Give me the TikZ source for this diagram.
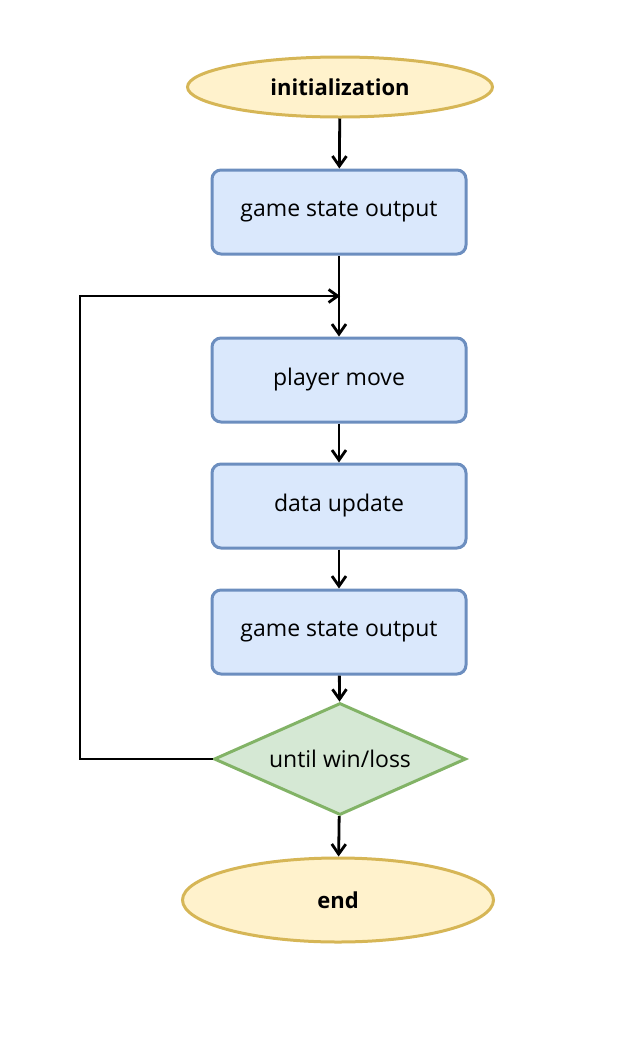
\documentclass[tikz,border=0pt]{standalone}
\usepackage{fontspec}
\setmainfont{Open Sans}
\usetikzlibrary{shapes.geometric,arrows.meta}
\definecolor{yfill}{HTML}{FFF2CC}
\definecolor{ydraw}{HTML}{D6B656}
\definecolor{bfill}{HTML}{DAE8FC}
\definecolor{bdraw}{HTML}{6C8EBF}
\definecolor{gfill}{HTML}{D5E8D4}
\definecolor{gdraw}{HTML}{82B366}
\newcommand{\lowtxt}[1]{\raisebox{-3pt}{#1}}
\tikzset{
  term/.style={ellipse, draw=ydraw, fill=yfill, line width=3pt, minimum width=305pt, minimum height=60pt, inner sep=0pt, font=\fontsize{22}{26}\selectfont\bfseries},
  proc/.style={rectangle, rounded corners=9pt, draw=bdraw, fill=bfill, line width=3pt, minimum width=254pt, minimum height=84pt, inner sep=0pt, font=\fontsize{23}{27}\selectfont},
  deci/.style={diamond, draw=gdraw, fill=gfill, line width=3pt, minimum width=252pt, minimum height=112pt, inner sep=0pt, font=\fontsize{23}{27}\selectfont},
  flow/.style={line width=2.8pt, -{Straight Barb[length=10pt,width=14pt,line width=2.8pt]}},
  loopline/.style={line width=2.8pt, -{Straight Barb[length=9pt,width=13pt,line width=2.8pt]}},
}
\begin{document}
\begin{tikzpicture}[x=1pt,y=-1pt]
\useasboundingbox (0,0) rectangle (633,1037);
\node[term] (init) at (340,87) {\lowtxt{initialization}};
\node[proc] (gso1) at (339,212) {\lowtxt{game state output}};
\node[proc] (pm) at (339,380) {\lowtxt{player move}};
\node[proc] (du) at (339,506) {\lowtxt{data update}};
\node[proc] (gso2) at (339,632) {\lowtxt{game state output}};
\node[deci] (dec) at (340,759) {\makebox[0pt]{\lowtxt{until win/loss}}};
\node[term, minimum width=311pt, minimum height=84pt] (end) at (338,900) {\lowtxt{end}};
\coordinate (join) at (340,296);
\coordinate (lc) at (80,759);
\draw[flow] (init) -- (gso1);
\draw[flow] (gso1) -- (pm);
\draw[flow] (pm) -- (du);
\draw[flow] (du) -- (gso2);
\draw[flow] (gso2) -- (dec);
\draw[flow] (dec) -- (end);
\draw[loopline] (dec.west) -- (lc) |- (join);
\end{tikzpicture}
\end{document}
